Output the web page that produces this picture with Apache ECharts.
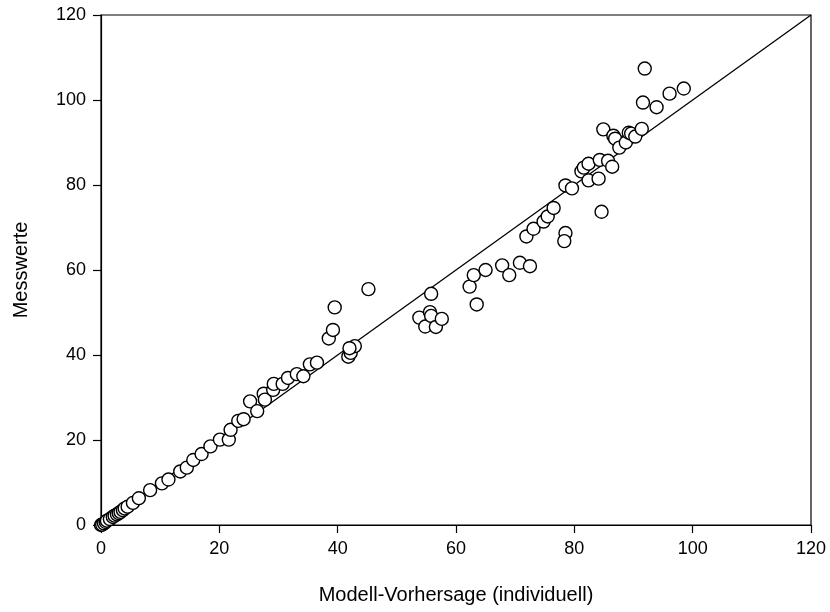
<!DOCTYPE html>
<html>
<head>
<meta charset="utf-8">
<script src="https://cdn.jsdelivr.net/npm/echarts@6/dist/echarts.min.js"></script>
<style>
  html, body { margin: 0; padding: 0; background: #fff; }
  #chart { width: 830px; height: 612px; }
</style>
</head>
<body>
<div id="chart"></div>
<script>
// Model prediction (individual) vs. measured values
const predicted = [
  0.0, 0.2, 0.5, 0.8, 1.0, 1.5, 2.0, 2.3, 2.7, 3.0, 3.3, 3.7, 4.0, 4.5,
  5.4, 6.4, 8.3, 10.3, 11.4, 13.4, 14.5, 15.6, 17.0, 18.5, 20.1, 21.6, 21.9,
  23.2, 24.1, 25.2, 26.4, 27.5, 27.7, 29.1, 29.2, 30.7, 31.6, 33.1, 34.2,
  35.3, 36.5,
  38.5, 39.2, 39.5, 41.8, 42.2, 42.9, 42.0, 45.2,
  53.8, 54.8, 55.6, 55.8, 55.8, 56.6, 57.6,
  62.3, 63.0, 63.5, 65.0, 67.8, 69.0, 70.8, 72.5, 71.9, 73.1, 74.8, 75.5,
  76.5, 78.5, 78.3, 78.5, 79.6,
  81.2, 81.6, 82.4, 82.4, 84.1, 84.3, 84.6, 84.9, 85.7, 86.4, 86.6, 86.9,
  87.6, 88.7, 89.2, 89.6, 90.3, 91.4, 91.6, 91.9, 93.9, 96.1, 98.5
];
const measured = [
  0.0, 0.1, 0.4, 0.7, 1.0, 1.4, 1.9, 2.2, 2.5, 2.8, 3.1, 3.5, 3.9, 4.3,
  5.2, 6.3, 8.2, 9.8, 10.7, 12.6, 13.5, 15.3, 16.7, 18.5, 20.1, 20.1, 22.4,
  24.5, 24.9, 29.1, 26.8, 30.9, 29.5, 31.8, 33.2, 33.2, 34.6, 35.5, 35.0,
  37.8, 38.2,
  43.9, 45.9, 51.2, 39.6, 40.5, 42.1, 41.6, 55.5,
  48.8, 46.7, 50.1, 54.4, 49.2, 46.6, 48.5,
  56.1, 58.8, 51.9, 60.0, 61.1, 58.8, 61.7, 60.9, 67.9, 69.7, 71.4, 72.6,
  74.6, 68.7, 66.8, 79.9, 79.2,
  83.2, 84.1, 85.0, 81.1, 81.5, 85.9, 73.7, 93.1, 85.7, 84.3, 91.6, 90.9,
  88.8, 90.0, 92.3, 92.1, 91.4, 93.2, 99.4, 107.4, 98.3, 101.5, 102.7
];
// Line of identity
const identityX = [0, 120];
const identityY = [0, 120];
const tickMin = 0, tickMax = 120, tickStep = 20;

const points = predicted.map((x, i) => [x, measured[i]]);
const identity = identityX.map((x, i) => [x, identityY[i]]);

const chart = echarts.init(document.getElementById('chart'), null, { renderer: 'canvas' });
const family = '"Liberation Sans", Arial, sans-serif';
const labelFont = { color: '#000', fontSize: 18, fontFamily: family };
const nameFont = { color: '#000', fontSize: 20, fontFamily: family };
chart.setOption({
  animation: false,
  backgroundColor: '#fff',
  grid: { left: 101, right: 19, top: 15, bottom: 87, show: true, borderColor: '#000', borderWidth: 1.2 },
  xAxis: {
    type: 'value', min: tickMin, max: tickMax, interval: tickStep,
    name: 'Modell-Vorhersage (individuell)', nameLocation: 'middle', nameGap: 60,
    nameTextStyle: nameFont,
    axisLine: { show: true, onZero: false, lineStyle: { color: '#000', width: 1.2 } },
    axisTick: { show: true, inside: false, length: 8, lineStyle: { color: '#000', width: 1.2 } },
    axisLabel: Object.assign({ margin: 15 }, labelFont),
    splitLine: { show: false }
  },
  yAxis: {
    type: 'value', min: tickMin, max: tickMax, interval: tickStep,
    name: 'Messwerte', nameLocation: 'middle', nameGap: 70,
    nameTextStyle: nameFont,
    axisLine: { show: true, onZero: false, lineStyle: { color: '#000', width: 1.2 } },
    axisTick: { show: true, inside: false, length: 8, lineStyle: { color: '#000', width: 1.2 } },
    axisLabel: Object.assign({ margin: 15 }, labelFont),
    splitLine: { show: false }
  },
  series: [
    {
      type: 'line', data: identity, symbol: 'none', silent: true, z: 1,
      lineStyle: { color: '#000', width: 1.3 }
    },
    {
      type: 'scatter', data: points, symbol: 'circle', symbolSize: 13, z: 2,
      itemStyle: { color: '#fff', borderColor: '#000', borderWidth: 1.4, opacity: 1 }
    }
  ]
});
</script>
</body>
</html>
